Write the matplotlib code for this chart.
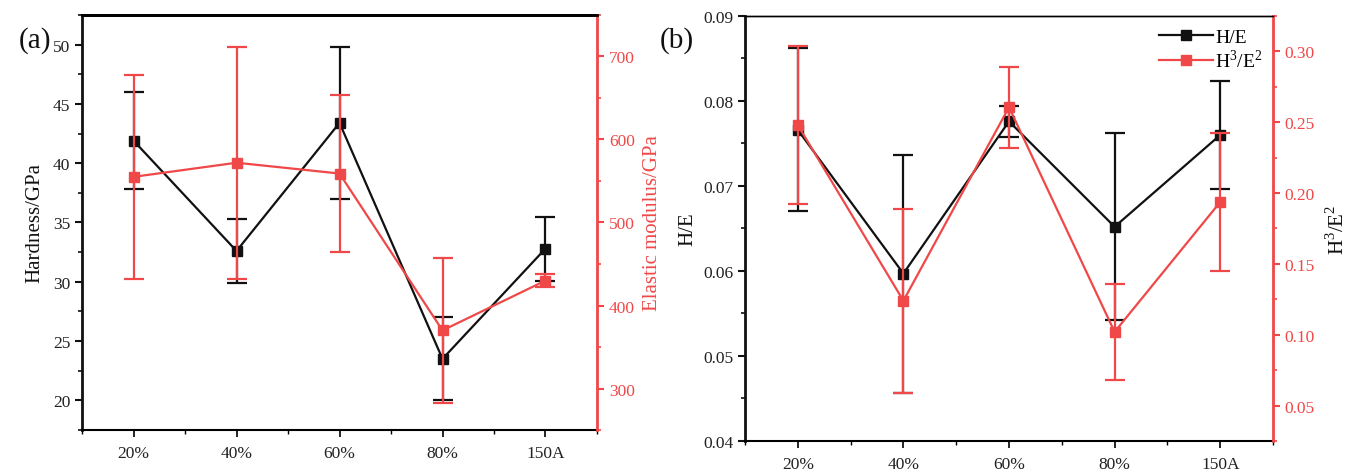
import matplotlib
matplotlib.use("Agg")
import matplotlib.pyplot as plt
from matplotlib.ticker import MultipleLocator, FixedLocator, FormatStrFormatter
from matplotlib.lines import Line2D
import numpy as np

plt.rcParams['font.family'] = ['Liberation Serif', 'DejaVu Serif']
plt.rcParams['mathtext.fontset'] = 'custom'
plt.rcParams['mathtext.rm'] = 'Liberation Serif'

categories = ["20%", "40%", "60%", "80%", "150A"]

hardness = [41.9, 32.6, 43.4, 23.5, 32.8]
hardness_err = [4.1, 2.7, 6.4, 3.5, 2.7]
modulus = [555, 572, 559, 370, 430]
modulus_err = [123, 140, 94, 87, 8]

h_e = [0.0766, 0.0597, 0.0776, 0.0652, 0.0760]
h_e_err = [0.0096, 0.0140, 0.0018, 0.0110, 0.0063]
h3_e2 = [0.248, 0.124, 0.2606, 0.102, 0.1937]
h3_e2_err = [0.056, 0.065, 0.0285, 0.034, 0.049]

RED = "#f04848"
BLACK = "#111111"
TICK_FS = 12.5
LABEL_FS = 15

fig = plt.figure(figsize=(13.54, 4.77), dpi=100)
x = np.arange(len(categories))

EB = dict(marker='s', markersize=6.5, linewidth=1.6, elinewidth=1.6,
          capsize=7, capthick=1.6, zorder=3)


def style_axes(ax, axr):
    ax.set_xlim(-0.5, 4.5)
    ax.set_xticks(x)
    ax.set_xticklabels(categories, fontsize=TICK_FS, color="#222222")
    ax.xaxis.set_minor_locator(FixedLocator(np.arange(-0.5, 4.6, 1.0)))
    ax.tick_params(axis='x', which='major', direction='out', length=5, width=1.2, pad=6)
    ax.tick_params(axis='x', which='minor', direction='out', length=3, width=1.0)
    ax.tick_params(axis='y', which='major', direction='out', length=5, width=1.5,
                   labelsize=TICK_FS, colors=BLACK, labelcolor="#222222")
    ax.tick_params(axis='y', which='minor', direction='out', length=3, width=1.2, colors=BLACK)
    axr.tick_params(axis='y', which='major', direction='out', length=5, width=1.5,
                    labelsize=TICK_FS, colors=RED)
    axr.tick_params(axis='y', which='minor', direction='out', length=3, width=1.2, colors=RED)
    ax.spines['left'].set_linewidth(2.0)
    ax.spines['left'].set_color(BLACK)
    ax.spines['bottom'].set_linewidth(1.5)
    axr.spines['right'].set_color(RED)
    axr.spines['right'].set_linewidth(2.0)
    axr.spines['left'].set_visible(False)
    axr.spines['bottom'].set_visible(False)


# ---------- Panel (a) ----------
ax1 = fig.add_axes([0.0606, 0.0964, 0.3803, 0.8701])
ax1r = ax1.twinx()
ax1.errorbar(x, hardness, yerr=hardness_err, color=BLACK, **EB)
ax1r.errorbar(x, modulus, yerr=modulus_err, color=RED, **EB)
ax1.set_ylim(17.5, 52.5)
ax1.yaxis.set_major_locator(FixedLocator([20, 25, 30, 35, 40, 45, 50]))
ax1.yaxis.set_minor_locator(MultipleLocator(2.5))
ax1r.set_ylim(250, 750)
ax1r.yaxis.set_major_locator(FixedLocator([300, 400, 500, 600, 700]))
ax1r.yaxis.set_minor_locator(MultipleLocator(50))
ax1.set_ylabel("Hardness/GPa", fontsize=LABEL_FS, color=BLACK, labelpad=6)
ax1r.set_ylabel("Elastic modulus/GPa", fontsize=LABEL_FS, color=RED, labelpad=6)
style_axes(ax1, ax1r)
ax1.spines['top'].set_linewidth(2.0)
ax1r.spines['top'].set_linewidth(2.0)
fig.text(0.014, 0.915, "(a)", fontsize=21, color=BLACK, va='center', ha='left')

# ---------- Panel (b) ----------
ax2 = fig.add_axes([0.5502, 0.0734, 0.3900, 0.8910])
ax2r = ax2.twinx()
ax2.errorbar(x, h_e, yerr=h_e_err, color=BLACK, **EB)
ax2r.errorbar(x, h3_e2, yerr=h3_e2_err, color=RED, **EB)
ax2.set_ylim(0.04, 0.09)
ax2.yaxis.set_major_locator(FixedLocator([0.04, 0.05, 0.06, 0.07, 0.08, 0.09]))
ax2.yaxis.set_minor_locator(MultipleLocator(0.005))
ax2.yaxis.set_major_formatter(FormatStrFormatter('%.2f'))
ax2r.set_ylim(0.025, 0.325)
ax2r.yaxis.set_major_locator(FixedLocator([0.05, 0.10, 0.15, 0.20, 0.25, 0.30]))
ax2r.yaxis.set_minor_locator(MultipleLocator(0.025))
ax2r.yaxis.set_major_formatter(FormatStrFormatter('%.2f'))
ax2.set_ylabel("H/E", fontsize=LABEL_FS, color=BLACK, labelpad=4)
ax2r.set_ylabel("H$^3$/E$^2$", fontsize=LABEL_FS, color=BLACK, labelpad=8)
style_axes(ax2, ax2r)
ax2.spines['top'].set_linewidth(1.0)
ax2r.spines['top'].set_linewidth(1.0)
fig.text(0.487, 0.915, "(b)", fontsize=21, color=BLACK, va='center', ha='left')

handles = [Line2D([], [], color=BLACK, marker='s', markersize=6.5, linewidth=1.6),
           Line2D([], [], color=RED, marker='s', markersize=6.5, linewidth=1.6)]
ax2r.legend(handles, ["H/E", "H$^3$/E$^2$"], loc='upper right', frameon=False,
            fontsize=14, handlelength=2.8, handletextpad=0.1,
            bbox_to_anchor=(0.995, 0.99), borderaxespad=0.0, labelspacing=0.15)

fig.savefig("out.png", dpi=100)
